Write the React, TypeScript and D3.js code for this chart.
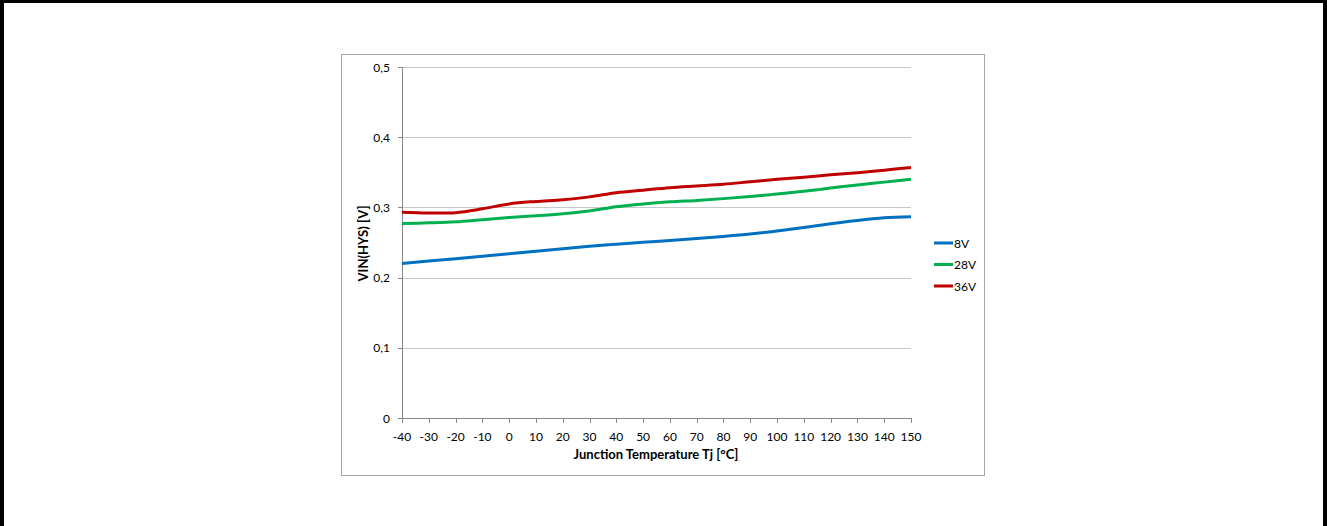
import React, { useEffect } from "react";
import * as d3 from "d3";

const temps = [-40, -30, -20, -10, 0, 10, 20, 30, 40, 50, 60, 70, 80, 90, 100, 110, 120, 130, 140, 150];
const v8 = [0.220, 0.2235, 0.227, 0.2305, 0.234, 0.2375, 0.241, 0.2445, 0.2475, 0.2503, 0.2529, 0.2556, 0.2586, 0.262, 0.2663, 0.2713, 0.2767, 0.2815, 0.2852, 0.2868];
const v28 = [0.277, 0.278, 0.2795, 0.2825, 0.2855, 0.288, 0.291, 0.295, 0.301, 0.305, 0.308, 0.310, 0.3125, 0.3155, 0.319, 0.323, 0.3275, 0.332, 0.336, 0.340];
const v36 = [0.293, 0.292, 0.2925, 0.298, 0.305, 0.3085, 0.311, 0.315, 0.321, 0.3245, 0.328, 0.3305, 0.333, 0.3365, 0.340, 0.343, 0.3465, 0.3495, 0.353, 0.357];
const seriesNames = ["8V", "28V", "36V"];
const seriesColors = ["#0070C0", "#00B050", "#C00000"];
const yTicks = [0, 0.1, 0.2, 0.3, 0.4, 0.5];
const yTickLabels = ["0", "0,1", "0,2", "0,3", "0,4", "0,5"];
const xTitle = "Junction Temperature Tj [°C]";
const yTitle = "VIN(HYS) [V]";

export default function App() {
  useEffect(() => {
    document.body.style.margin = "0";
  }, []);
  const W = 1327, H = 526;
  const x = d3.scaleLinear().domain([-40, 150]).range([402, 911]);
  const y = d3.scaleLinear().domain([0, 0.5]).range([418, 67]);
  const allSeries = [v8, v28, v36];
  const line = d3
    .line<[number, number]>()
    .x((d) => x(d[0]))
    .y((d) => y(d[1]))
    .curve(d3.curveCatmullRom.alpha(0.5));
  const font = "Lato, 'Open Sans', sans-serif";
  return (
    <svg width={W} height={H} style={{ display: "block" }} fontFamily={font}>
      <rect x={0} y={0} width={W} height={H} fill="#fff" />
      {/* outer black frame */}
      <rect x={0} y={0} width={4} height={H} fill="#000" />
      <rect x={0} y={0} width={W} height={3} fill="#000" />
      <rect x={W - 4} y={0} width={4} height={H} fill="#000" />
      {/* chart box */}
      <rect x={341.5} y={54.5} width={643} height={421} fill="#fff" stroke="#a6a6a6" strokeWidth={1} />
      {/* gridlines */}
      {yTicks.map((t, i) =>
        t > 0 ? (
          <line key={"g" + i} x1={402} x2={911} y1={Math.round(y(t)) + 0.5} y2={Math.round(y(t)) + 0.5} stroke="#c8c8c8" strokeWidth={1} />
        ) : null
      )}
      {/* y axis */}
      <line x1={402.5} x2={402.5} y1={67} y2={418.5} stroke="#868686" />
      {yTicks.map((t, i) => (
        <g key={"yt" + i}>
          <line x1={398} x2={402} y1={Math.round(y(t)) + 0.5} y2={Math.round(y(t)) + 0.5} stroke="#868686" />
          <text x={390} y={y(t) + 4.5} textAnchor="end" fontSize={12} fill="#000">
            {yTickLabels[i]}
          </text>
        </g>
      ))}
      {/* x axis */}
      <line x1={402} x2={911} y1={418.5} y2={418.5} stroke="#868686" />
      {temps.map((t, i) => (
        <g key={"xt" + i}>
          <line x1={Math.round(x(t)) + 0.5} x2={Math.round(x(t)) + 0.5} y1={418} y2={423} stroke="#868686" />
          <text x={x(t)} y={441} textAnchor="middle" fontSize={12} fill="#000">
            {t}
          </text>
        </g>
      ))}
      {/* series */}
      {allSeries.map((s, i) => (
        <path
          key={"s" + i}
          d={line(temps.map((t, j) => [t, s[j]] as [number, number])) || ""}
          fill="none"
          stroke={seriesColors[i]}
          strokeWidth={3}
          strokeLinejoin="round"
        />
      ))}
      {/* axis titles */}
      <text x={656} y={459} textAnchor="middle" fontSize={13} fontWeight="bold" fill="#000">
        {xTitle}
      </text>
      <text transform={`translate(367.5,243.5) rotate(-90)`} textAnchor="middle" fontSize={13} fontWeight="bold" fill="#000">
        {yTitle}
      </text>
      {/* legend */}
      {seriesNames.map((n, i) => (
        <g key={"l" + i}>
          <line x1={934} x2={953} y1={243 + i * 21.5} y2={243 + i * 21.5} stroke={seriesColors[i]} strokeWidth={3} />
          <text x={954} y={247.5 + i * 21.5} fontSize={12} fill="#000">
            {n}
          </text>
        </g>
      ))}
    </svg>
  );
}
